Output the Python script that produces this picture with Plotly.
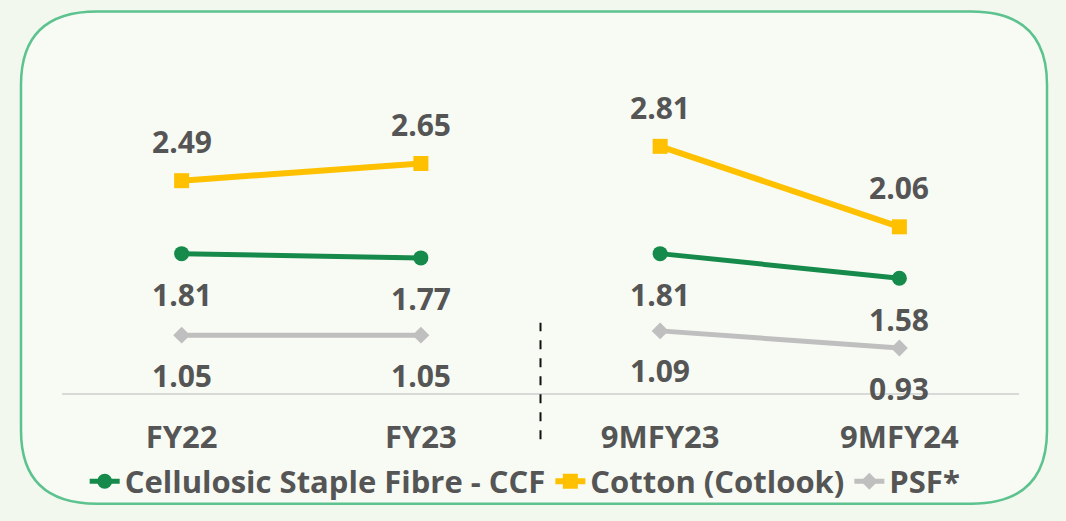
import plotly.graph_objects as go

categories = ["FY22", "FY23", "9MFY23", "9MFY24"]
ccf = [1.81, 1.77, 1.81, 1.58]
cotton = [2.49, 2.65, 2.81, 2.06]
psf = [1.05, 1.05, 1.09, 0.93]

series = [
    ("Cellulosic Staple Fibre - CCF", ccf, "#168A4A", "circle", 15, 5, -41),
    ("Cotton (Cotlook)", cotton, "#FFC000", "square", 15, 6, 39),
    ("PSF*", psf, "#BFBFBF", "diamond", 13, 5, -40),
]

FONT = "Open Sans"
TXT = "#555555"

fig = go.Figure()
for name, vals, color, sym, msize, lw, shift in series:
    for seg, (a, b) in enumerate([(0, 2), (2, 4)]):
        fig.add_trace(go.Scatter(
            x=categories[a:b], y=vals[a:b], mode="lines+markers", name=name,
            legendgroup=name, showlegend=(seg == 0),
            line=dict(color=color, width=lw, shape="spline"),
            marker=dict(symbol=sym, size=msize, color=color),
            hoverinfo="skip",
        ))
    for c, v in zip(categories, vals):
        fig.add_annotation(x=c, y=v, text=f"{v:.2f}", showarrow=False, yshift=shift,
                           font=dict(family=FONT, size=30, color=TXT, weight="bold"))

# layout geometry in pixels
W, H = 1066, 521
L, R, T, B = 62, 47, 103, 117
pw, ph = W - L - R, H - T - B


def px(x):
    return (x - L) / pw


def py(y):
    return (H - B - y) / ph


# rounded border
x0, x1, y0, y1, r = 21, 1047, 8, 519, 76
path = (f"M {px(x0 + r)},{py(y0)} L {px(x1 - r)},{py(y0)} Q {px(x1)},{py(y0)} {px(x1)},{py(y0 + r)} "
        f"L {px(x1)},{py(y1 - r)} Q {px(x1)},{py(y1)} {px(x1 - r)},{py(y1)} "
        f"L {px(x0 + r)},{py(y1)} Q {px(x0)},{py(y1)} {px(x0)},{py(y1 - r)} "
        f"L {px(x0)},{py(y0 + r)} Q {px(x0)},{py(y0)} {px(x0 + r)},{py(y0)} Z")
fig.add_shape(type="path", path=path, xref="paper", yref="paper",
              line=dict(color="#5CC28E", width=2.5), fillcolor="#F7FBF4", layer="below")

# dashed separator
fig.add_shape(type="line", x0=1.5, x1=1.5, xref="x", yref="paper", y0=py(452), y1=py(331),
              line=dict(color="#111111", width=2, dash="dash"))

fig.update_layout(
    width=W, height=H,
    margin=dict(l=L, r=R, t=T, b=B),
    paper_bgcolor="#F2F8EE", plot_bgcolor="rgba(0,0,0,0)",
    xaxis=dict(type="category", categoryorder="array", categoryarray=categories,
               range=[-0.5, 3.5], showgrid=False, showline=True, linecolor="#D9D9D9", linewidth=2,
               ticks="", ticklabelstandoff=16, zeroline=False,
               tickfont=dict(family=FONT, size=31, color=TXT, weight="bold")),
    yaxis=dict(range=[0.511, 3.214], visible=False, showgrid=False, zeroline=False),
    legend=dict(orientation="h", x=0.484, xanchor="center", y=py(496), yanchor="middle",
                font=dict(family=FONT, size=31, color=TXT, weight="bold"),
                bgcolor="rgba(0,0,0,0)", itemclick=False, tracegroupgap=0),
    showlegend=True,
)

fig.write_html("out.html", config={"displayModeBar": False},
               post_script="document.body.style.margin='0';document.body.style.overflow='hidden';")
